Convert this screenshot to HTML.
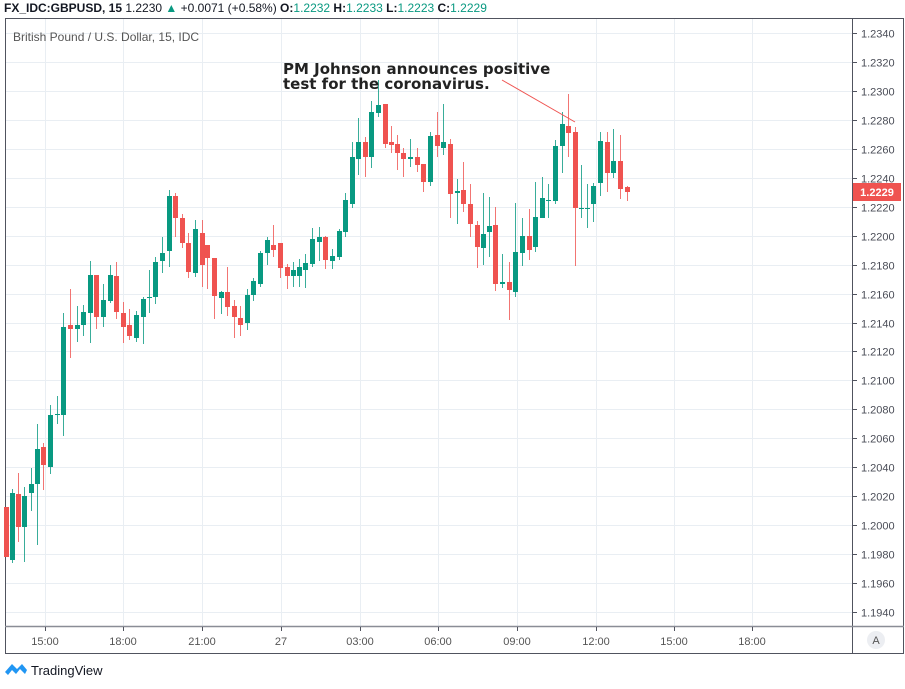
<!DOCTYPE html>
<html><head><meta charset="utf-8"><style>
html,body{margin:0;padding:0;background:#fff;}
body{width:905px;height:684px;overflow:hidden;font-family:"Liberation Sans",sans-serif;}
</style></head><body>
<svg width="905" height="684" viewBox="0 0 905 684" xmlns="http://www.w3.org/2000/svg" id="s">
<rect width="905" height="684" fill="#fff"/>
<g id="grid" stroke="#e9eef3" stroke-width="1"></g>
<rect x="5.5" y="18.5" width="898" height="635" fill="none" stroke="#50535e" stroke-width="1"/>
<line x1="852.5" y1="18" x2="852.5" y2="654" stroke="#50535e"/>
<line x1="5" y1="626.5" x2="904" y2="626.5" stroke="#8a8d96" stroke-width="1.5"/>
<g id="candles"></g>
<g id="axis" font-family="Liberation Sans, sans-serif" font-size="11" fill="#4a4d57"></g>
<text x="4" y="12" font-size="12" font-weight="bold" fill="#131722">FX_IDC:GBPUSD, 15 <tspan font-weight="normal">1.2230</tspan> <tspan fill="#089981">▲</tspan> <tspan font-weight="normal">+0.0071 (+0.58%)</tspan> O:<tspan font-weight="normal" fill="#089981">1.2232</tspan> H:<tspan font-weight="normal" fill="#089981">1.2233</tspan> L:<tspan font-weight="normal" fill="#089981">1.2223</tspan> C:<tspan font-weight="normal" fill="#089981">1.2229</tspan></text>
<text x="13" y="41" font-size="12" fill="#555">British Pound / U.S. Dollar, 15, IDC</text>
<text x="283" y="74" font-family="DejaVu Sans, sans-serif" font-size="15" font-weight="bold" fill="#222">PM Johnson announces positive</text>
<text x="283" y="89" font-family="DejaVu Sans, sans-serif" font-size="15" font-weight="bold" fill="#222">test for the coronavirus.</text>
<line x1="502" y1="80" x2="575" y2="122" stroke="#ef5350" stroke-width="1"/>
<rect x="853" y="183" width="48" height="18" fill="#ef5350"/>
<text x="877" y="196" font-size="11" font-weight="bold" fill="#fff" text-anchor="middle">1.2229</text>
<circle cx="876" cy="640" r="9" fill="#eceef2"/>
<text x="876" y="644" font-size="11" fill="#555" text-anchor="middle">A</text>
<path d="M5 672 L12 664 L17 669 L22 664 L27 670 L25 674 L20 669 L16 674 L12 670 L8 675 Z" fill="#2196f3"/>
<text x="31" y="675" font-size="13" fill="#131722">TradingView</text>
</svg>
<script>
var ns="http://www.w3.org/2000/svg";
function el(p,t,a,txt){var e=document.createElementNS(ns,t);for(var k in a)e.setAttribute(k,a[k]);if(txt)e.textContent=txt;p.appendChild(e);return e;}
var grid=document.getElementById('grid'),axis=document.getElementById('axis'),cg=document.getElementById('candles');
for(var i=0;i<=20;i++){var y=Math.round(33+i*28.95)+0.5;el(grid,'line',{x1:6,y1:y,x2:852,y2:y});
 var v=(1.2340-i*0.002).toFixed(4);
 el(axis,'line',{x1:853,y1:y,x2:857,y2:y,stroke:'#50535e'});
 el(axis,'text',{x:861,y:y+4},v);}
var tx=[[45,'15:00'],[123,'18:00'],[202,'21:00'],[281,'27'],[360,'03:00'],[438,'06:00'],[517,'09:00'],[596,'12:00'],[674,'15:00'],[752,'18:00']];
tx.forEach(function(t){var x=t[0]+0.5;el(grid,'line',{x1:x,y1:19,x2:x,y2:626});el(axis,'line',{x1:x,y1:627,x2:x,y2:631,stroke:'#50535e'});el(axis,'text',{x:t[0],y:645,'text-anchor':'middle',fill:'#555'},t[1]);});
var d=`6 r 507 557 507 557
12 g 493 560 489 563
18 r 494 527 473 542
24 g 496 527 487 562
31 g 484 493 468 511
37 g 449 484 424 545
43 r 447 465 443 490
50 g 415 467 405 474
57 g 414 415 396 424
63 g 327 415 313 436
70 r 325 329 289 358
77 g 325 329 306 342
83 g 312 325 305 336
90 g 275 313 261 343
96 r 275 317 275 329
103 g 300 317 284 327
110 g 275 301 265 303
116 r 276 312 262 319
123 r 313 327 302 343
129 r 325 336 309 340
136 g 315 338 311 342
143 g 299 317 297 344
149 g 297 298 270 313
155 g 262 297 257 304
162 g 253 261 237 273
169 g 196 251 190 267
175 r 196 218 193 237
182 r 218 243 214 248
188 r 243 272 233 278
195 g 229 273 220 277
202 r 233 265 220 287
207 r 245 258 245 289
214 r 258 296 258 319
221 g 292 298 291 314
227 r 292 307 267 316
234 r 306 317 300 338
240 r 318 325 306 336
247 g 295 323 289 330
253 g 281 295 278 301
260 g 253 284 251 287
267 g 240 253 237 265
273 r 245 250 225 257
280 r 243 268 243 278
287 r 267 276 264 289
293 g 270 276 262 287
299 g 267 276 259 287
305 g 263 270 254 288
312 g 239 264 228 267
319 g 237 242 227 261
325 r 237 260 236 269
332 g 256 261 249 269
339 g 231 257 229 260
345 g 200 232 193 237
352 g 157 204 142 208
358 g 142 159 118 175
365 r 142 157 137 177
371 g 112 157 101 168
378 g 105 113 80 117
385 r 104 144 104 148
391 r 142 145 126 153
397 r 144 153 135 170
403 r 153 159 148 177
410 g 157 159 139 167
417 r 157 165 148 172
423 r 164 182 164 192
430 g 136 182 132 186
437 r 135 146 112 157
443 g 142 148 104 155
450 r 144 194 139 218
457 g 191 193 179 224
463 r 190 204 162 212
470 r 204 224 184 237
477 r 225 247 221 268
483 g 234 248 193 265
489 g 226 232 197 257
495 r 225 284 207 291
502 g 282 284 254 288
509 r 282 290 262 320
515 g 252 292 203 297
522 g 236 253 218 266
529 r 236 250 209 260
535 g 217 247 182 252
542 g 198 218 177 218
548 g 200 201 184 218
555 g 146 201 140 204
562 g 124 146 112 173
568 r 126 133 94 157
575 r 132 208 127 266
581 g 208 209 165 218
587 g 208 209 184 228
593 g 186 204 183 222
600 g 141 183 132 196
607 r 142 173 132 192
613 g 161 173 129 178
620 r 161 189 135 199
627 r 187 192 186 201`;
d.split('\n').forEach(function(l){var p=l.trim().split(/\s+/);var x=+p[0],c=p[1]=='g'?'#089981':'#ef5350';
var t=+p[2],b=+p[3],h=+p[4],lo=+p[5];if(b-t<1)b=t+1;
el(cg,'line',{x1:x+0.5,y1:h,x2:x+0.5,y2:lo,stroke:c,'stroke-width':1,'stroke-opacity':0.8});
el(cg,'rect',{x:x-2,y:t,width:5,height:b-t,fill:c});});
</script>
</body></html>
